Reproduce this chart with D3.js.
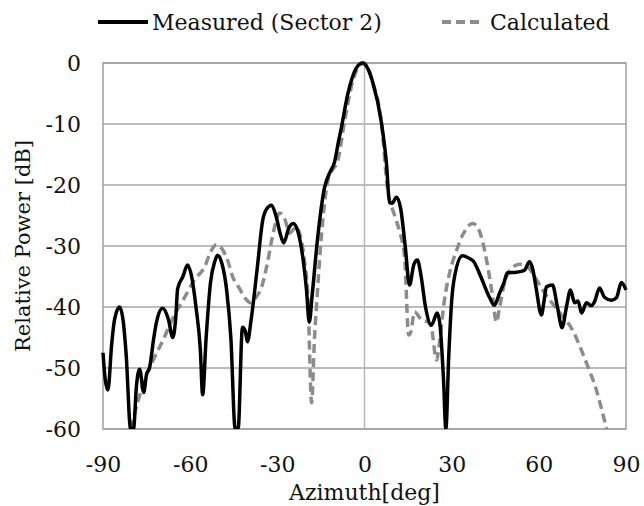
<!DOCTYPE html>
<html>
<head>
<meta charset="utf-8">
<script src="https://cdn.jsdelivr.net/npm/d3@7"></script>
<style>
  body { margin: 0; background: #fff; }
</style>
</head>
<body>
<div id="chart"></div>
<script>
// measured pattern (sector 2)
const measuredAz = [-90, -89.2, -88.3, -87, -86, -84.3, -83, -82, -80.5, -79.5, -78.5, -77.4, -76, -75, -74, -72.5, -71.6, -69.5, -67.5, -66, -65, -64.3, -62.5, -60.9, -59.5, -58, -56.5, -55.7, -54.5, -53, -51.5, -50.6, -49, -47.5, -46, -44.5, -43.5, -42, -41, -40.3, -39, -37, -35, -33.5, -32, -30.5, -29, -27.8, -26, -24.5, -23, -21.5, -20, -19, -18, -16.2, -13.8, -12, -10.3, -9, -8, -5.8, -2.8, -0.7, 1, 2.8, 5.8, 7.6, 8.6, 9.5, 11, 12.5, 14, 15.5, 17, 18.2, 19.5, 21, 23, 25, 26, 27.2, 28, 29, 30, 31, 33.7, 36, 37.5, 40, 43, 44.7, 46.5, 48, 49.2, 52.3, 55, 56.8, 58, 59, 60.9, 61.8, 62.6, 64.7, 66.4, 68, 69.5, 70.9, 72.3, 73.5, 74.7, 76.4, 78, 79.1, 80.9, 82.6, 85, 86.7, 88.4, 90];
const measuredDb = [-47.5, -52, -53.6, -46, -42, -40, -42.5, -48, -60, -60, -53, -50.2, -54, -51, -50, -45, -42.5, -40.2, -42, -45, -42, -37, -35, -33.1, -35, -40, -47, -54.4, -45, -36, -32.5, -31.5, -33, -37, -45, -60, -60, -43.3, -44, -45.7, -42, -34, -25.7, -23.8, -23.3, -25, -28, -29.5, -27, -26.3, -27.5, -31, -37, -42.5, -38, -29, -20.5, -18, -16.2, -13, -10.7, -5.2, -0.8, 0, -0.8, -3.1, -9.7, -16.7, -22.9, -23, -22, -24, -30, -36.4, -33, -32.3, -35, -40, -43, -41, -43, -52, -60, -48, -39, -35, -31.6, -32, -32.5, -35, -38.4, -39.7, -37.7, -36, -34.4, -34.3, -34, -32.6, -34, -36.7, -41.3, -39, -36.7, -36.4, -40, -43.4, -40, -37.2, -39.3, -39, -41, -39.3, -39.8, -39.2, -36.9, -38.4, -38.9, -38.5, -36, -37.2];

// calculated pattern
const calcAz = [-80.5, -78, -75.7, -72, -69.9, -65.4, -62, -58.5, -55, -53, -51, -49, -47, -45.4, -43, -41, -39.3, -37.5, -35.4, -33.5, -31.7, -29.2, -27.5, -25.8, -24.5, -23.4, -22, -20.6, -19.5, -18.2, -17.2, -16.5, -14.8, -12.7, -11, -9.3, -6.9, -4.1, -2, 0, 2.8, 5.8, 7.9, 10.3, 12, 13.8, 15.2, 16, 17.2, 19.6, 22, 23, 24.8, 25.5, 27.5, 29.5, 31.7, 34, 37.2, 39.5, 42, 44, 45.4, 46.5, 48.2, 50, 53.3, 56.1, 58.5, 61.3, 66.4, 71.6, 76.4, 79.8, 83.3];
const calcDb = [-60, -55.5, -52, -48, -46, -41.3, -38.5, -35.5, -33.4, -31, -29.8, -30.5, -32.5, -35, -37, -38.6, -39.3, -38.5, -36.7, -33, -28.5, -24.6, -25.5, -27.9, -27.3, -26.9, -28.5, -32.6, -38, -55.7, -45, -39.7, -28.2, -19.5, -17.5, -16.2, -9.7, -3.1, -0.6, 0, -3.1, -9.7, -20.5, -24.9, -27.5, -31.8, -44.6, -44, -40.8, -42.1, -42.5, -43.3, -48.7, -47, -38.9, -34, -30.7, -28, -26.3, -27.5, -32.3, -38, -42.5, -40, -36, -34, -33, -33.4, -35, -37.2, -40.5, -43.8, -49.2, -53.6, -60];

const xTicks = [-90, -60, -30, 0, 30, 60, 90];
const yTicks = [0, -10, -20, -30, -40, -50, -60];

const W = 644, H = 506;
const margin = { top: 63, right: 18, bottom: 77, left: 103 };
const width = W - margin.left - margin.right;
const height = H - margin.top - margin.bottom;
const serif = "'DejaVu Serif', 'Liberation Serif', serif";

const svg = d3.select("#chart").append("svg")
    .attr("width", W)
    .attr("height", H);

const g = svg.append("g")
    .attr("transform", `translate(${margin.left},${margin.top})`);

const x = d3.scaleLinear().domain([-90, 90]).range([0, width]);
const y = d3.scaleLinear().domain([-60, 0]).range([height, 0]);

// grid lines
g.append("g")
    .selectAll("line")
    .data(yTicks)
    .enter().append("line")
    .attr("x1", 0).attr("x2", width)
    .attr("y1", d => y(d)).attr("y2", d => y(d))
    .attr("stroke", "#a6a6a6")
    .attr("stroke-width", 1.5);

g.append("line")
    .attr("x1", x(0)).attr("x2", x(0))
    .attr("y1", 0).attr("y2", height)
    .attr("stroke", "#b8b8b8")
    .attr("stroke-width", 1.5);

// frame
g.append("rect")
    .attr("width", width).attr("height", height)
    .attr("fill", "none")
    .attr("stroke", "#a0a0a0")
    .attr("stroke-width", 1.5);

// axes (plain hyphen for negatives)
const fmt = d => String(d);
const xAxis = g.append("g")
    .attr("transform", `translate(0,${height})`)
    .call(d3.axisBottom(x).tickValues(xTicks).tickFormat(fmt).tickSize(0).tickPadding(27));
const yAxis = g.append("g")
    .call(d3.axisLeft(y).tickValues(yTicks).tickFormat(fmt).tickSize(0).tickPadding(22));

[xAxis, yAxis].forEach(a => {
    a.attr("font-family", null).attr("font-size", null);
    a.select(".domain").remove();
    a.selectAll("text")
        .attr("font-family", serif)
        .attr("font-size", 22)
        .attr("fill", "#111");
});

// clip
svg.append("defs").append("clipPath")
    .attr("id", "plot-clip")
    .append("rect")
    .attr("x", -2).attr("y", -2)
    .attr("width", width + 4).attr("height", height + 2);

const line = d3.line()
    .x(d => x(d[0]))
    .y(d => y(d[1]))
    .curve(d3.curveMonotoneX);

const plot = g.append("g").attr("clip-path", "url(#plot-clip)");

plot.append("path")
    .datum(d3.zip(calcAz, calcDb))
    .attr("d", line)
    .attr("fill", "none")
    .attr("stroke", "#8c8c8c")
    .attr("stroke-width", 3.5)
    .attr("stroke-dasharray", "9,5");

plot.append("path")
    .datum(d3.zip(measuredAz, measuredDb))
    .attr("d", line)
    .attr("fill", "none")
    .attr("stroke", "#000")
    .attr("stroke-width", 3.5)
    .attr("stroke-linejoin", "round");

// axis titles
svg.append("text")
    .attr("x", margin.left + x(0))
    .attr("y", 500)
    .attr("text-anchor", "middle")
    .attr("font-family", serif)
    .attr("font-size", 22)
    .attr("fill", "#111")
    .text("Azimuth[deg]");

svg.append("text")
    .attr("transform", `translate(30,${margin.top + height / 2}) rotate(-90)`)
    .attr("text-anchor", "middle")
    .attr("font-family", serif)
    .attr("font-size", 21)
    .attr("fill", "#111")
    .text("Relative Power [dB]");

// legend
const legend = svg.append("g");
legend.append("line")
    .attr("x1", 98).attr("x2", 148)
    .attr("y1", 22).attr("y2", 22)
    .attr("stroke", "#000").attr("stroke-width", 4);
legend.append("text")
    .attr("x", 152).attr("y", 30)
    .attr("font-family", serif)
    .attr("font-size", 22)
    .attr("fill", "#111")
    .text("Measured (Sector 2)");
legend.append("line")
    .attr("x1", 442).attr("x2", 484)
    .attr("y1", 22).attr("y2", 22)
    .attr("stroke", "#8c8c8c").attr("stroke-width", 4)
    .attr("stroke-dasharray", "9,5");
legend.append("text")
    .attr("x", 490).attr("y", 30)
    .attr("font-family", serif)
    .attr("font-size", 22)
    .attr("fill", "#111")
    .text("Calculated");
</script>
</body>
</html>
